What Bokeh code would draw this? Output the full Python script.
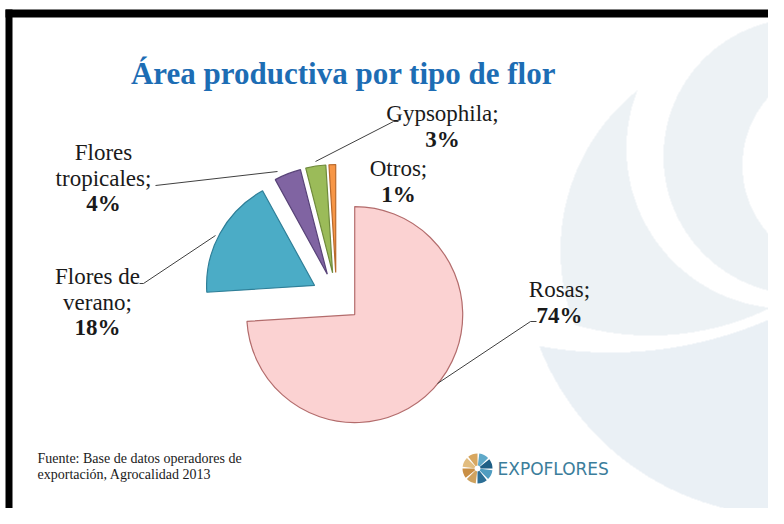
import numpy as np
from bokeh.plotting import figure
from bokeh.models import Range1d, ColumnDataSource
from bokeh.core.properties import value
from bokeh.embed import file_html
from bokeh.resources import INLINE

# ---------------- data ----------------
categories = ["Rosas", "Flores de verano", "Flores tropicales", "Gypsophila", "Otros"]
shares = [74, 18, 4, 3, 1]
name_lines = [["Rosas;"], ["Flores de", "verano;"], ["Flores", "tropicales;"], ["Gypsophila;"], ["Otros;"]]
pct_labels = ["74%", "18%", "4%", "3%", "1%"]
title_text = "Área productiva por tipo de flor"
source_lines = ["Fuente: Base de datos operadores de", "exportación, Agrocalidad  2013"]
logo_text = "EXPOFLORES"

# ---------------- styles / layout ----------------
fills = ["#fbd2d2", "#4bacc6", "#8064a2", "#9bbb59", "#f79646"]
edges = ["#b36c6c", "#2f7f98", "#584378", "#6f8a3c", "#b8692c"]
CX, CY = 336, 297          # pie centre (screen px)
R = 108
EXPLODE = 25
label_pos = [(559, 289), (97, 276), (103, 152), (442, 113), (398, 168)]
LINE_H = 25.5
leaders = [
    [(437, 383), (530, 321), (536, 321)],
    [(215, 235), (143, 283), (139, 283)],
    [(277, 171), (155, 185)],
    [(315, 161), (393, 121), (398, 121)],
]

W, H = 768, 508
p = figure(width=W, height=H, x_range=Range1d(0, W), y_range=Range1d(-H, 0),
           output_backend="svg", toolbar_location=None, min_border=0)
p.axis.visible = False
p.grid.visible = False
p.outline_line_color = None
p.background_fill_color = "white"
p.border_fill_color = "white"

# ---------------- background swirl (decoration raster) ----------------
gx, gy = np.meshgrid(np.arange(W) + 0.5, np.arange(H) + 0.5)  # screen coords


def inside(cx, cy, r):
    return (gx - cx) ** 2 + (gy - cy) ** 2 <= r ** 2


shapeA = inside(765, 250, 205) & ~inside(786, 148, 160) & inside(650, 61, 274)
shapeB = inside(801, 156, 138) & ~inside(845, 165, 103)
shapeC = inside(786, 250, 265) & ~inside(610, -46, 398)
shapeD = inside(872, 195, 97)
img = np.full((H, W), 0, dtype=np.uint32)
view = img.view(dtype=np.uint8).reshape((H, W, 4))
view[...] = 255
for m, col in [(shapeA | shapeB | shapeD, (0xed, 0xf2, 0xf5)), (shapeC, (0xea, 0xf0, 0xf5))]:
    view[m, 0] = col[0]
    view[m, 1] = col[1]
    view[m, 2] = col[2]
img = img[::-1]
p.image_rgba(image=[img], x=0, y=-H, dw=W, dh=H)

# frame bands
p.quad(left=[5], right=[12], top=[-9], bottom=[-H], fill_color="black", line_color=None)
p.quad(left=[5], right=[W], top=[-9], bottom=[-17], fill_color="black", line_color=None)

# ---------------- pie ----------------
total = float(sum(shares))
cum = np.concatenate([[0.0], np.cumsum(shares)]) / total
xs, ys, sa, ea = [], [], [], []
for i in range(len(shares)):
    a0 = np.pi / 2 - 2 * np.pi * cum[i + 1]
    a1 = np.pi / 2 - 2 * np.pi * cum[i]
    mid = (a0 + a1) / 2
    xs.append(CX + EXPLODE * np.cos(mid))
    ys.append(-CY + EXPLODE * np.sin(mid))
    sa.append(a0)
    ea.append(a1)
src = ColumnDataSource(dict(x=xs, y=ys, s=sa, e=ea, fill=fills, edge=edges, cat=categories, v=shares))
p.wedge(x="x", y="y", radius=R, start_angle="s", end_angle="e", direction="anticlock",
        fill_color="fill", line_color="edge", line_width=1.2, source=src)

# leader lines
for pts in leaders:
    p.line(x=[q[0] for q in pts], y=[-q[1] for q in pts], line_color="#404040", line_width=1)

# labels
serif = value("Liberation Serif")
for i, (lx, ly) in enumerate(label_pos):
    lines = name_lines[i]
    for j, t in enumerate(lines):
        p.text(x=[lx], y=[-(ly + j * LINE_H)], text=[t], text_font=serif, text_font_size="23px",
               text_align="center", text_baseline="middle", text_color="#1a1a1a")
    p.text(x=[lx], y=[-(ly + len(lines) * LINE_H)], text=[pct_labels[i]], text_font=serif,
           text_font_size="23px", text_font_style="bold", text_align="center",
           text_baseline="middle", text_color="#1a1a1a")

# title
p.text(x=[343], y=[-73], text=[title_text], text_font=serif, text_font_size="31px",
       text_font_style="bold", text_align="center", text_baseline="alphabetic", text_color="#1d6db4")

# source
for j, t in enumerate(source_lines):
    p.text(x=[37], y=[-(458 + j * 16)], text=[t], text_font=serif, text_font_size="14px",
           text_align="left", text_baseline="middle", text_color="#1a1a1a")

# logo
lc = ["#d8a760", "#e2bd80", "#c98f45", "#cfa25f", "#2b6e95", "#4f9cc0", "#1f5f86", "#5fa9c9"]
for k in range(8):
    a = np.pi / 2 + k * np.pi / 4
    p.annular_wedge(x=[477], y=[-468], inner_radius=3, outer_radius=15,
                    start_angle=a, end_angle=a + np.pi / 4 - 0.12, fill_color=lc[k], line_color=None)
p.text(x=[497], y=[-468], text=[logo_text], text_font=value("DejaVu Sans"), text_font_size="17px",
       text_align="left", text_baseline="middle", text_color="#3b7d9b")

open("out.html", "w").write(file_html(p, INLINE))
